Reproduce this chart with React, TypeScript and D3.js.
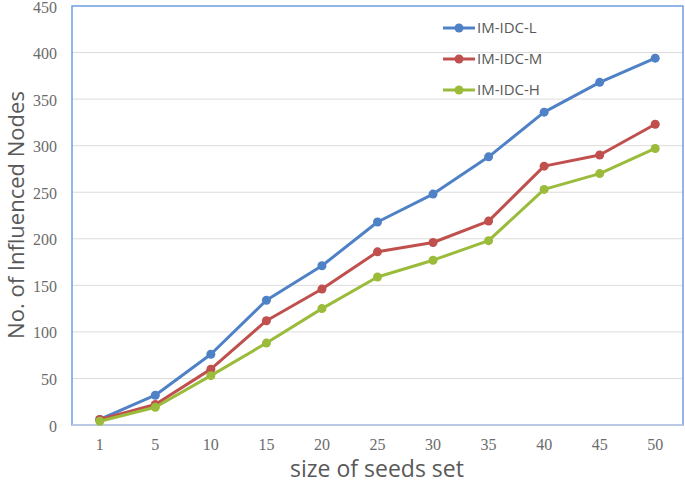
import React from "react";
import * as d3 from "d3";

const categories = ["1", "5", "10", "15", "20", "25", "30", "35", "40", "45", "50"];
const seriesL = [6, 32, 76, 134, 171, 218, 248, 288, 336, 368, 394];
const seriesM = [6, 22, 60, 112, 146, 186, 196, 219, 278, 290, 323];
const seriesH = [4, 19, 53, 88, 125, 159, 177, 198, 253, 270, 297];
const yTicks = [0, 50, 100, 150, 200, 250, 300, 350, 400, 450];
const seriesNames = ["IM-IDC-L", "IM-IDC-M", "IM-IDC-H"];
const colors = ["#4f81c7", "#c0504d", "#9bbb3b"];

export default function App() {
  const W = 685, H = 486;
  const left = 72, right = 683, top = 6, bottom = 425;
  const x = d3.scaleBand<string>().domain(categories).range([left, right]).padding(0);
  const y = d3.scaleLinear().domain([0, 450]).range([bottom, top]);
  const cx = (c: string) => (x(c) ?? 0) + x.bandwidth() / 2;
  const line = d3.line<number>().x((_, i) => cx(categories[i])).y((d) => y(d));
  const all = [seriesL, seriesM, seriesH];
  return (
    <svg width={W} height={H} style={{ position: "absolute", left: 0, top: 0, background: "#fff" }}>
      {yTicks.map((t) => (
        <g key={t}>
          {t > 0 && t < 450 && (
            <line x1={left} x2={right} y1={y(t)} y2={y(t)} stroke="#dcdcdc" strokeWidth={1} />
          )}
          <text x={57} y={y(t) + 1} dy="0.35em" textAnchor="end" fontFamily="'Liberation Serif', serif" fontSize={16} fill="#6b6b6b">
            {t}
          </text>
        </g>
      ))}
      <rect x={left} y={top} width={right - left} height={bottom - top} fill="none" stroke="#6f9ee0" strokeWidth={1.5} />
      <line x1={left} x2={right} y1={bottom} y2={bottom} stroke="#c8cfe0" strokeWidth={1.5} />
      {categories.map((c) => (
        <text key={c} x={cx(c)} y={450} textAnchor="middle" fontFamily="'Liberation Serif', serif" fontSize={16} fill="#6b6b6b">
          {c}
        </text>
      ))}
      {all.map((s, k) => (
        <g key={k}>
          <path d={line(s) ?? ""} fill="none" stroke={colors[k]} strokeWidth={3} strokeLinejoin="round" />
          {s.map((v, i) => (
            <circle key={i} cx={cx(categories[i])} cy={y(v)} r={4.5} fill={colors[k]} />
          ))}
        </g>
      ))}
      {seriesNames.map((n, k) => {
        const ly = 28 + k * 31;
        return (
          <g key={n}>
            <line x1={443} x2={475} y1={ly} y2={ly} stroke={colors[k]} strokeWidth={3} />
            <circle cx={459} cy={ly} r={4.5} fill={colors[k]} />
            <text x={477} y={ly} dy="0.35em" fontFamily="'Open Sans', sans-serif" fontSize={15} fill="#595959">
              {n}
            </text>
          </g>
        );
      })}
      <text x={377} y={477} textAnchor="middle" fontFamily="'Open Sans', sans-serif" fontSize={23} fill="#595959">
        size of seeds set
      </text>
      <text transform={`translate(24,215) rotate(-90)`} textAnchor="middle" fontFamily="'Open Sans', sans-serif" fontSize={22} fill="#595959">
        No. of Influenced Nodes
      </text>
    </svg>
  );
}
